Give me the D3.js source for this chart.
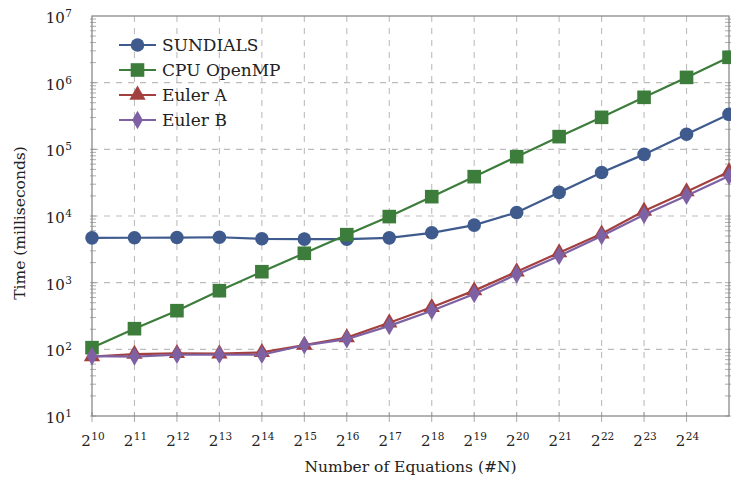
<!DOCTYPE html>
<html>
<head>
<meta charset="utf-8">
<script src="https://cdnjs.cloudflare.com/ajax/libs/d3/7.8.5/d3.min.js"></script>
<style>
    html, body { margin: 0; padding: 0; background: #fff; overflow: hidden; }
    svg { display: block; }
    text { font-family: "DejaVu Serif", "Liberation Serif", serif; fill: #222; }
</style>
</head>
<body>
<svg id="mainFrame"></svg>
<script>
// exponents of 2 on the x axis (number of equations = 2^k)
const exponents = [10, 11, 12, 13, 14, 15, 16, 17, 18, 19, 20, 21, 22, 23, 24, 25];
const xTickExponents = [10, 11, 12, 13, 14, 15, 16, 17, 18, 19, 20, 21, 22, 23, 24];
const yTickExponents = [1, 2, 3, 4, 5, 6, 7];

// times in milliseconds
const sundials  = [4700, 4720, 4750, 4800, 4550, 4500, 4500, 4700, 5600, 7300, 11300, 22600, 45000, 84000, 168000, 335000];
const cpuOpenMP = [106, 204, 380, 758, 1460, 2760, 5250, 9800, 19500, 38900, 77600, 155000, 302000, 603000, 1200000, 2400000];
const eulerA    = [78, 85, 87, 86, 90, 116, 150, 251, 427, 760, 1460, 2820, 5400, 11900, 23200, 46200];
const eulerB    = [79, 78, 83, 83, 83, 115, 142, 225, 380, 676, 1330, 2520, 5000, 10400, 20200, 39800];

const seriesNames = ['SUNDIALS', 'CPU OpenMP', 'Euler A', 'Euler B'];
const seriesValues = [sundials, cpuOpenMP, eulerA, eulerB];

const width = 731, height = 486;
const margin = { top: 16, right: 2, bottom: 70, left: 92 };
const innerWidth = width - margin.left - margin.right;
const innerHeight = height - margin.top - margin.bottom;

const colors = ['#3f5b8e', '#3d7d3b', '#a3403f', '#7e61a3'];
const shapes = [d3.symbolCircle, d3.symbolSquare, d3.symbolTriangle, d3.symbolDiamond];
const sizes = [145, 185, 115, 100];

const svg = d3.select('#mainFrame')
    .attr('width', width)
    .attr('height', height)
    .attr('viewBox', `0 0 ${width} ${height}`);

const xScale = d3.scaleLinear()
    .domain([10, 25])
    .range([0, innerWidth]);

const yScale = d3.scaleLog()
    .domain([10, 1e7])
    .range([innerHeight, 0]);

const g = svg.append('g')
    .attr('transform', `translate(${margin.left},${margin.top})`);

// grid
g.append('g').selectAll('line').data(xTickExponents.slice(1))
    .enter().append('line')
        .attr('x1', d => xScale(d)).attr('x2', d => xScale(d))
        .attr('y1', 0).attr('y2', innerHeight)
        .attr('stroke', '#bdbdbd').attr('stroke-width', 1.1)
        .attr('stroke-dasharray', '6,6');

g.append('g').selectAll('line').data(yTickExponents.slice(1, -1))
    .enter().append('line')
        .attr('x1', 0).attr('x2', innerWidth)
        .attr('y1', d => yScale(Math.pow(10, d))).attr('y2', d => yScale(Math.pow(10, d)))
        .attr('stroke', '#bdbdbd').attr('stroke-width', 1.1)
        .attr('stroke-dasharray', '6,6');

// minor ticks on the log axis, left and right
const minorTicks = yScale.ticks().filter(t => t < 1e7);
[0, innerWidth].forEach((x0, side) => {
    const dir = side === 0 ? 1 : -1;
    g.append('g').selectAll('line').data(minorTicks)
        .enter().append('line')
            .attr('x1', x0 - 2 * dir).attr('x2', x0 + 4 * dir)
            .attr('y1', d => yScale(d)).attr('y2', d => yScale(d))
            .attr('stroke', '#999').attr('stroke-width', 0.8);
});

// x ticks below the axis
g.append('g').selectAll('line').data(xTickExponents)
    .enter().append('line')
        .attr('x1', d => xScale(d)).attr('x2', d => xScale(d))
        .attr('y1', innerHeight - 4).attr('y2', innerHeight + 6)
        .attr('stroke', '#aaa').attr('stroke-width', 1);

// frame
g.append('rect')
    .attr('width', innerWidth).attr('height', innerHeight)
    .attr('fill', 'none').attr('stroke', '#808080').attr('stroke-width', 1.2);

// power labels drawn as two plain texts: base + raised exponent
const powerLabel = (parent, base, exp, x, y, anchor) => {
    const b = parent.append('text').attr('y', y).style('font-size', '15px').text(base);
    const e = parent.append('text').attr('y', y - 6).style('font-size', '10.5px').text(exp);
    const bw = b.node().getComputedTextLength();
    const ew = e.node().getComputedTextLength();
    const total = bw + ew + 0.5;
    const x0 = anchor === 'end' ? x - total : x - total / 2;
    b.attr('x', x0);
    e.attr('x', x0 + bw + 0.5);
};

const xLabels = g.append('g');
xTickExponents.forEach(k => powerLabel(xLabels, '2', k, xScale(k) + 1, innerHeight + 30, 'middle'));

const yLabels = g.append('g');
yTickExponents.forEach(k => powerLabel(yLabels, '10', k, -20, yScale(Math.pow(10, k)) + 7, 'end'));

// axis titles
svg.append('text')
    .attr('x', margin.left + innerWidth / 2)
    .attr('y', height - 14)
    .attr('text-anchor', 'middle')
    .style('font-size', '15.5px')
    .text('Number of Equations (#N)');

svg.append('text')
    .attr('transform', 'translate(25,223) rotate(-90)')
    .attr('text-anchor', 'middle')
    .style('font-size', '15.5px')
    .text('Time (milliseconds)');

// series
const line = d3.line()
    .x((d, i) => xScale(exponents[i]))
    .y(d => yScale(d));

seriesValues.forEach((values, s) => {
    const sg = g.append('g');
    sg.append('path')
        .datum(values)
        .attr('d', line)
        .attr('fill', 'none')
        .attr('stroke', colors[s])
        .attr('stroke-width', 2.2);
    sg.selectAll('path.marker').data(values)
        .enter().append('path')
            .attr('class', 'marker')
            .attr('d', d3.symbol().type(shapes[s]).size(sizes[s]))
            .attr('transform', (d, i) => `translate(${xScale(exponents[i])},${yScale(d)})`)
            .attr('fill', colors[s]);
});

// legend
const legend = g.append('g').attr('transform', 'translate(27,29)');
const rows = legend.selectAll('g').data(seriesNames)
    .enter().append('g')
        .attr('transform', (d, i) => `translate(0,${i * 25})`);
rows.append('line')
    .attr('x1', 0).attr('x2', 37)
    .attr('stroke', (d, i) => colors[i]).attr('stroke-width', 2.2);
rows.append('path')
    .attr('d', (d, i) => d3.symbol().type(shapes[i]).size(sizes[i])())
    .attr('transform', 'translate(18.5,0)')
    .attr('fill', (d, i) => colors[i]);
rows.append('text')
    .attr('x', 43)
    .attr('y', 6)
    .style('font-size', '17px')
    .text(d => d);
</script>
</body>
</html>
